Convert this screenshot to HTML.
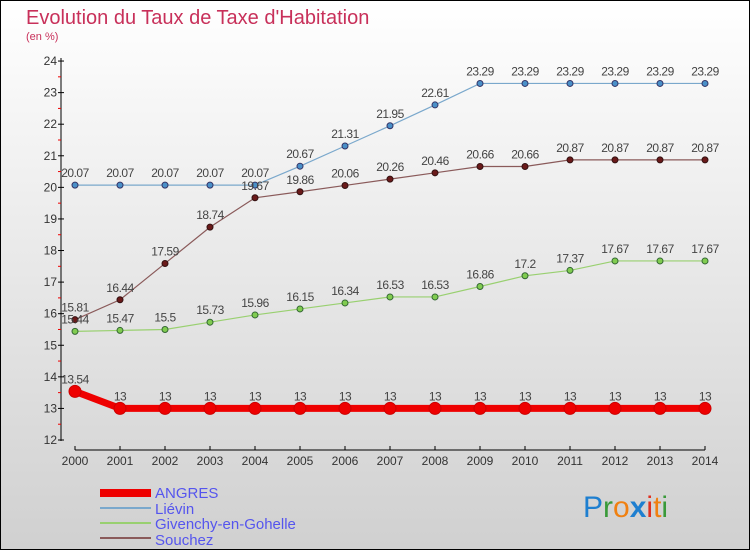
<!DOCTYPE html>
<html><head><meta charset="utf-8"><style>
body{margin:0}
svg{display:block;font-family:"Liberation Sans",sans-serif}
</style></head><body>
<svg id="c" width="750" height="550" viewBox="0 0 750 550">
<defs><linearGradient id="bg" x1="0" y1="0" x2="0" y2="1"><stop offset="0" stop-color="#ffffff"/><stop offset="1" stop-color="#d0d0d0"/></linearGradient></defs>
<rect x="0.5" y="0.5" width="749" height="549" fill="url(#bg)" stroke="#000"/>
<text x="26" y="24" font-size="20" fill="#c8305a">Evolution du Taux de Taxe d'Habitation</text>
<text x="26" y="40" font-size="11" fill="#c8305a">(en %)</text>
<g id="axes"></g><g id="series"></g><g id="labels"></g>
<g>
<rect x="100" y="489" width="51" height="8" fill="#e00"/>
<text x="155" y="498" font-size="15" fill="#5555ee">ANGRES</text>
<rect x="100" y="507" width="51" height="2" fill="#7aa8cc"/>
<text x="155" y="514" font-size="15" fill="#5555ee">Liévin</text>
<rect x="100" y="522" width="51" height="2" fill="#99d070"/>
<text x="155" y="529" font-size="15" fill="#5555ee">Givenchy-en-Gohelle</text>
<rect x="100" y="537" width="51" height="2" fill="#8a5a5a"/>
<text x="155" y="545" font-size="15" fill="#5555ee">Souchez</text>
</g>
<g font-size="30" font-family="'Liberation Sans',sans-serif">
<text x="583" y="517"><tspan fill="#1e7fd0">P</tspan><tspan fill="#3a9a3a">r</tspan><tspan fill="#f08010">o</tspan><tspan fill="#1e7fd0" font-weight="bold">x</tspan><tspan fill="#e03020">i</tspan><tspan fill="#f08010">t</tspan><tspan fill="#3a9a3a">i</tspan></text>
</g>
</svg>
<script>
const years=[2000,2001,2002,2003,2004,2005,2006,2007,2008,2009,2010,2011,2012,2013,2014];
const angres=[13.54,13,13,13,13,13,13,13,13,13,13,13,13,13,13];
const lievin=[20.07,20.07,20.07,20.07,20.07,20.67,21.31,21.95,22.61,23.29,23.29,23.29,23.29,23.29,23.29];
const givenchy=[15.44,15.47,15.5,15.73,15.96,16.15,16.34,16.53,16.53,16.86,17.2,17.37,17.67,17.67,17.67];
const souchez=[15.81,16.44,17.59,18.74,19.67,19.86,20.06,20.26,20.46,20.66,20.66,20.87,20.87,20.87,20.87];
const yTicks=[12,13,14,15,16,17,18,19,20,21,22,23,24];
const NS="http://www.w3.org/2000/svg";
const x=i=>75+i*45;
const y=v=>440-(v-12)*31.58;
function mk(tag,attrs,parent){const e=document.createElementNS(NS,tag);for(const k in attrs)e.setAttribute(k,attrs[k]);parent.appendChild(e);return e;}
const ax=document.getElementById('axes'),sg=document.getElementById('series'),lg=document.getElementById('labels');
let a=mk('line',{x1:61,y1:58,x2:61,y2:441,stroke:'#000'},ax);


a=mk('line',{x1:75,y1:450,x2:705,y2:450,stroke:'#000'},ax);


yTicks.forEach(v=>{
 mk('line',{x1:58,y1:y(v),x2:64,y2:y(v),stroke:'#000'},ax);
 if(v<24) mk('line',{x1:58,y1:y(v+0.5),x2:61,y2:y(v+0.5),stroke:'#e00'},ax);
 const t=mk('text',{x:57,y:y(v)+4,'font-size':12,fill:'#333','text-anchor':'end'},ax);t.textContent=v;
 
 
});
years.forEach((yr,i)=>{
 mk('line',{x1:x(i),y1:446,x2:x(i),y2:450,stroke:'#000'},ax);
 const t=mk('text',{x:x(i),y:465,'font-size':12,fill:'#333','text-anchor':'middle'},ax);t.textContent=yr;
 
 
});
function series(data,name,color,w,r,dot,stroke){
 const p=mk('polyline',{points:data.map((v,i)=>x(i)+','+y(v)).join(' '),fill:'none',stroke:color,'stroke-width':w},sg);
 
 
 data.forEach((v,i)=>{
  const c=mk('circle',{cx:x(i),cy:y(v),r:r,fill:dot,stroke:stroke,'stroke-width':1},sg);
  
  
  const t=mk('text',{x:x(i),y:y(v)-8,'font-size':12,fill:'#444','text-anchor':'middle','letter-spacing':'-0.5'},lg);
  t.textContent=v;
  
  
 });
}
series(lievin,'lievin','#7aa8cc',1.2,3,'#4a90c8','#336');
series(souchez,'souchez','#8a5a5a',1.2,3,'#6a1a1a','#311');
series(givenchy,'givenchy','#99d070',1.2,3,'#80cc50','#363');
series(angres,'angres','#e00',7,6,'#e00','#c00');
</script>
</body></html>
